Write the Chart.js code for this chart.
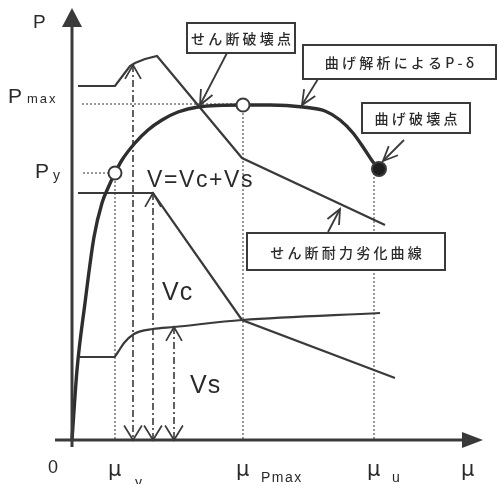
<!DOCTYPE html>
<html><head><meta charset="utf-8">
<script src="https://cdn.jsdelivr.net/npm/chart.js@4"></script>
<style>html,body{margin:0;padding:0;background:#fff}canvas{display:block}</style>
</head><body>
<canvas id="c" width="497" height="484"></canvas>
<script>
// ---- data (schematic units) ----
// P-δ curve from bending analysis
const pdX = [0, 0.5, 1.3, 2.2, 3.0, 3.6, 4.3, 5.0, 6.3, 7.6, 9.0, 10.6, 12.6, 17.1, 19.8, 23.1, 25.3, 26.8, 28.1, 29.3, 30.1, 30.7];
const pdY = [0, 7.0, 13.7, 20.3, 23.7, 25.2, 26.7, 28.0, 29.7, 31.0, 32.0, 32.8, 33.3, 33.5, 33.5, 33.3, 32.9, 32.0, 30.7, 29.0, 27.8, 27.1];
// V = Vc + Vs
const vtX = [0.6, 4.3, 5.2, 5.8, 6.3, 7.3, 8.5, 17.0, 31.3];
const vtY = [35.4, 35.4, 36.6, 37.4, 37.7, 38.1, 38.4, 28.2, 21.5];
// Vc
const vcX = [0.6, 8.1, 17.0, 32.3];
const vcY = [24.7, 24.7, 12.0, 6.2];
// Vs
const vsX = [0.8, 4.2, 4.6, 5.2, 6.2, 8.1, 10.2, 17.0, 30.8];
const vsY = [8.3, 8.3, 8.8, 9.7, 10.6, 11.1, 11.3, 12.0, 12.7];
// characteristic points
const muY = 4.3, muPmax = 17.1, muU = 30.2;
const pY = 26.7, pMax = 33.6;
const markX = [4.3, 17.1, 30.7];
const markY = [26.7, 33.5, 27.1];
// dash-dot verticals (x, top value)
const ddX = [6.1, 8.1, 10.2];
const ddTop = [37.5, 24.7, 11.3];
// tick labels
const xTickLabels = ['0', 'μ', 'μ', 'μ', 'μ'];
const xTickSubs = ['', 'y', 'Pmax', 'u', ''];

const pts = (xs, ys) => xs.map((v, i) => ({x: v, y: ys[i]}));
const ink = '#3a3a3a';

const datasets = [];
datasets.push({data: pts(markX, markY), showLine: false, pointRadius: [6.5, 6.5, 7], pointHoverRadius: 0,
  pointBackgroundColor: ['#fff', '#fff', '#1e1e1e'], pointBorderColor: ink, pointBorderWidth: 2});
datasets.push({data: pts(pdX, pdY), showLine: true, borderColor: '#2e2e2e', borderWidth: 3.4, pointRadius: 0, cubicInterpolationMode: 'monotone'});
datasets.push({data: pts(vtX, vtY), showLine: true, borderColor: ink, borderWidth: 2.2, pointRadius: 0, tension: 0});
datasets.push({data: pts(vcX, vcY), showLine: true, borderColor: ink, borderWidth: 2.2, pointRadius: 0, tension: 0});
datasets.push({data: pts(vsX, vsY), showLine: true, borderColor: ink, borderWidth: 2.2, pointRadius: 0, cubicInterpolationMode: 'monotone'});
const dotted = {showLine: true, borderColor: '#555', borderWidth: 1.2, borderDash: [2, 2], pointRadius: 0};
datasets.push(Object.assign({data: [{x: 1.0, y: pMax}, {x: muPmax, y: pMax}]}, dotted));
datasets.push(Object.assign({data: [{x: 1.1, y: pY}, {x: muY, y: pY}]}, dotted));
datasets.push(Object.assign({data: [{x: muY, y: pY}, {x: muY, y: 0}]}, dotted));
datasets.push(Object.assign({data: [{x: muPmax, y: markY[1]}, {x: muPmax, y: 0}]}, dotted));
datasets.push(Object.assign({data: [{x: muU, y: markY[2]}, {x: muU, y: 0}]}, dotted));
ddX.forEach((xv, i) => datasets.push({data: [{x: xv, y: ddTop[i]}, {x: xv, y: 0}], showLine: true, borderColor: ink, borderWidth: 1.6,
  borderDash: [7, 3, 2, 3], pointRadius: 0}));

function spaced(ctx, text, x, y, sp, align) {
  let w = 0; const ws = [];
  for (const ch of text) { const m = ctx.measureText(ch).width; ws.push(m); w += m; }
  w += sp * (ws.length - 1);
  let cx = align === 'center' ? x - w / 2 : x;
  let i = 0;
  ctx.textAlign = 'left';
  for (const ch of text) { ctx.fillText(ch, cx, y); cx += ws[i++] + sp; }
}
function openHead(ctx, tx, ty, fx, fy, len, ang) {
  const a = Math.atan2(fy - ty, fx - tx);
  ctx.beginPath();
  ctx.moveTo(tx + len * Math.cos(a - ang), ty + len * Math.sin(a - ang));
  ctx.lineTo(tx, ty);
  ctx.lineTo(tx + len * Math.cos(a + ang), ty + len * Math.sin(a + ang));
  ctx.stroke();
}

const deco = {
  id: 'deco',
  afterDatasetsDraw(chart) {
    const {ctx, scales: {x, y}} = chart;
    const X = v => x.getPixelForValue(v), Y = v => y.getPixelForValue(v);
    ctx.save();
    ctx.strokeStyle = ink; ctx.fillStyle = ink; ctx.lineCap = 'butt';
    // axes
    ctx.lineWidth = 3;
    ctx.beginPath(); ctx.moveTo(X(-1.7), Y(0)); ctx.lineTo(X(39.5), Y(0)); ctx.stroke();
    ctx.beginPath(); ctx.moveTo(X(41.1), Y(0)); ctx.lineTo(X(39.0), Y(0) - 8); ctx.lineTo(X(39.0), Y(0) + 8); ctx.closePath(); ctx.fill();
    ctx.beginPath(); ctx.moveTo(X(0), Y(-0.7)); ctx.lineTo(X(0), Y(41.5)); ctx.stroke();
    ctx.beginPath(); ctx.moveTo(X(0), Y(43.2)); ctx.lineTo(X(0) - 10, Y(41.3)); ctx.lineTo(X(0) + 10, Y(41.3)); ctx.closePath(); ctx.fill();
    // dash-dot arrowheads
    ctx.lineWidth = 1.7;
    ddX.forEach((xv, i) => {
      openHead(ctx, X(xv), Y(ddTop[i]), X(xv), Y(ddTop[i]) + 10, 16, 0.52);
      openHead(ctx, X(xv), Y(0), X(xv), Y(0) - 10, 17, 0.55);
    });
    // labels
    const sans = '"Liberation Sans", Arial, sans-serif';
    ctx.fillStyle = '#2a2a2a';
    ctx.textBaseline = 'alphabetic';
    ctx.font = '19px ' + sans; ctx.textAlign = 'left';
    ctx.fillText('P', 33, 28);
    ctx.font = '21px ' + sans; ctx.fillText('P', 8, Y(pMax) - 1);
    ctx.font = '13px ' + sans; spaced(ctx, 'max', 27, Y(pMax) - 1, 2);
    ctx.font = '21px ' + sans; ctx.fillText('P', 35, Y(pY) + 5);
    ctx.font = '14px ' + sans; ctx.fillText('y', 53, Y(pY) + 7);
    ctx.font = '23px ' + sans; spaced(ctx, 'V=Vc+Vs', 147, 187, 1.6);
    ctx.font = '25px ' + sans; spaced(ctx, 'Vc', 162, 300, 1);
    spaced(ctx, 'Vs', 190, 393, 1);
    // x tick labels
    const tx = [0, muY, muPmax, muU, 39.0];
    ctx.font = '18px ' + sans; ctx.textAlign = 'center';
    ctx.fillText(xTickLabels[0], X(tx[0]) - 19, 473);
    for (let i = 1; i < 5; i++) {
      ctx.font = '21px "DejaVu Sans", sans-serif'; ctx.textAlign = 'left';
      const lx = i === 4 ? 461 : X(tx[i]) - 7;
      ctx.fillText(xTickLabels[i], lx, 476);
      if (xTickSubs[i]) {
        ctx.font = '14px ' + sans;
        spaced(ctx, xTickSubs[i], lx + (i === 1 ? 27 : 25), i === 1 ? 487 : 482, 1.5);
      }
    }
    // callout boxes
    const jp = '"Noto Sans CJK JP", sans-serif';
    const boxes = [
      ['せん断破壊点', 187, 23, 108, 30, [227, 53, 200, 105]],
      ['曲げ解析によるP-δ', 303, 45, 193, 34, [318, 79, 302, 105]],
      ['曲げ破壊点', 362, 103, 108, 30, [404, 140, 383, 161]],
      ['せん断耐力劣化曲線', 247, 233, 198, 37, [328, 232, 340, 209]]
    ];
    boxes.forEach(([t, bx, by, bw, bh, ar]) => {
      ctx.fillStyle = '#fff'; ctx.fillRect(bx, by, bw, bh);
      ctx.strokeStyle = ink; ctx.lineWidth = 2; ctx.strokeRect(bx, by, bw, bh);
      ctx.fillStyle = '#2a2a2a'; ctx.font = '500 14px ' + jp; ctx.textBaseline = 'middle';
      spaced(ctx, t, bx + bw / 2, by + bh / 2 + 1, 3.2, 'center');
      ctx.lineWidth = 1.8;
      ctx.beginPath(); ctx.moveTo(ar[0], ar[1]); ctx.lineTo(ar[2], ar[3]); ctx.stroke();
      openHead(ctx, ar[2], ar[3], ar[0], ar[1], 16, 0.42);
    });
    ctx.restore();
  }
};

new Chart(document.getElementById('c'), {
  type: 'scatter',
  data: {datasets},
  options: {
    responsive: false, animation: false, devicePixelRatio: 1,
    layout: {padding: 0, autoPadding: false},
    plugins: {legend: {display: false}, tooltip: {enabled: false}},
    scales: {
      x: {type: 'linear', min: -7.2, max: 42.5, display: false},
      y: {type: 'linear', min: -4.4, max: 44, display: false}
    },
    elements: {line: {fill: false}}
  },
  plugins: [deco]
});
</script>
</body></html>
